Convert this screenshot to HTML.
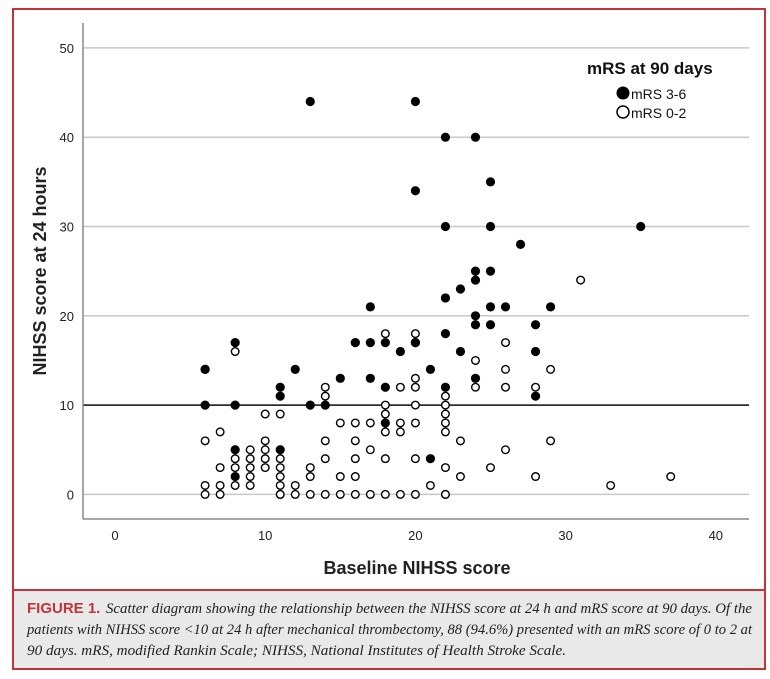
<!DOCTYPE html>
<html><head><meta charset="utf-8"><style>
body{margin:0;background:#fff;width:770px;height:674px;overflow:hidden;font-family:"Liberation Sans",sans-serif}
</style></head><body>
<svg width="770" height="674" xmlns="http://www.w3.org/2000/svg">
<rect x="13" y="9" width="752" height="660" fill="#fff" stroke="#c0343a" stroke-width="2"/>
<rect x="14" y="590" width="750" height="78" fill="#e9e9e9"/>
<line x1="13" y1="590" x2="765" y2="590" stroke="#c0343a" stroke-width="2"/>
<g id="grid"></g>
<line x1="83" y1="23" x2="83" y2="519" stroke="#888" stroke-width="1.5"/>
<line x1="83" y1="519" x2="749" y2="519" stroke="#888" stroke-width="1.5"/>
<g id="ticks" font-size="13" fill="#222"></g>
<g id="marks"></g>
<text x="417" y="574" font-size="18" font-weight="bold" text-anchor="middle" fill="#222">Baseline NIHSS score</text>
<text transform="translate(46,271) rotate(-90)" font-size="18" font-weight="bold" text-anchor="middle" fill="#222">NIHSS score at 24 hours</text>
<g>
<text x="587" y="74" font-size="17" font-weight="bold" fill="#111">mRS at 90 days</text>
<circle cx="623" cy="93" r="6.5" fill="#000"/>
<text x="631" y="99" font-size="14" fill="#111">mRS 3-6</text>
<circle cx="623" cy="112" r="6" fill="#fff" stroke="#000" stroke-width="1.5"/>
<text x="631" y="118" font-size="14" fill="#111">mRS 0-2</text>
</g>
<g font-size="15" fill="#222">
<text x="27" y="613" font-family="Liberation Sans,sans-serif" font-weight="bold" fill="#c0343a" font-size="15">FIGURE 1.</text>
<text x="106" y="613" font-family="Liberation Serif,serif" font-style="italic" textLength="646" lengthAdjust="spacingAndGlyphs">Scatter diagram showing the relationship between the NIHSS score at 24 h and mRS score at 90 days. Of the</text>
<text x="27" y="634" font-family="Liberation Serif,serif" font-style="italic" textLength="725" lengthAdjust="spacingAndGlyphs">patients with NIHSS score &lt;10 at 24 h after mechanical thrombectomy, 88 (94.6%) presented with an mRS score of 0 to 2 at</text>
<text x="27" y="655" font-family="Liberation Serif,serif" font-style="italic" textLength="539" lengthAdjust="spacingAndGlyphs">90 days. mRS, modified Rankin Scale; NIHSS, National Institutes of Health Stroke Scale.</text>
</g>
</svg>
<script>
const xTicks=[0,10,20,30,40];
const yTicks=[0,10,20,30,40,50];
const refLine=10;
const poorX=[6,6,6,8,8,8,8,11,11,11,12,13,13,14,15,16,17,17,17,18,18,18,19,20,20,20,20,21,21,22,22,22,22,22,23,23,24,24,24,24,24,24,25,25,25,25,25,26,27,28,28,28,29,35];
const poorY=[14,10,14,17,10,5,2,12,11,5,14,44,10,10,13,17,21,17,13,17,12,8,16,44,34,17,17,14,4,40,30,18,12,22,23,16,40,25,24,20,19,13,35,30,25,21,19,21,28,19,16,11,21,30];
const goodX=[6,6,6,7,7,7,7,8,8,8,8,9,9,9,9,9,10,10,10,10,10,11,11,11,11,11,11,11,12,12,13,13,13,14,14,14,14,14,15,15,15,16,16,16,16,16,16,17,17,17,18,18,18,18,18,18,19,19,19,19,20,20,20,20,20,20,20,21,22,22,22,22,22,22,22,22,23,23,24,24,25,26,26,26,26,28,28,29,29,31,33,37];
const goodY=[6,1,0,7,3,1,0,16,4,3,1,5,4,3,2,1,9,6,5,4,3,9,4,3,2,1,0,0,1,0,3,2,0,12,11,6,4,0,8,2,0,17,8,6,4,2,0,8,5,0,18,10,9,7,4,0,12,8,7,0,18,13,12,10,8,4,0,1,11,10,9,8,7,3,0,0,6,2,15,12,3,17,14,12,5,12,2,14,6,24,1,2];
const NS="http://www.w3.org/2000/svg";
const sx=v=>115+v*15.02;
const sy=v=>494.4-v*8.93;
const grid=document.getElementById('grid'),ticks=document.getElementById('ticks'),marks=document.getElementById('marks');
yTicks.forEach(t=>{
 const l=document.createElementNS(NS,'line');
 l.setAttribute('x1',83);l.setAttribute('x2',749);l.setAttribute('y1',sy(t));l.setAttribute('y2',sy(t));
 l.setAttribute('stroke','#c8c8c8');l.setAttribute('stroke-width','1.5');
 
 
 grid.appendChild(l);
 const tx=document.createElementNS(NS,'text');
 tx.setAttribute('x',74);tx.setAttribute('y',sy(t)+5);tx.setAttribute('text-anchor','end');tx.textContent=t;
 
 
 ticks.appendChild(tx);
});
xTicks.forEach(t=>{
 const tx=document.createElementNS(NS,'text');
 tx.setAttribute('x',sx(t));tx.setAttribute('y',540);tx.setAttribute('text-anchor','middle');tx.textContent=t;
 
 
 ticks.appendChild(tx);
});
const rl=document.createElementNS(NS,'line');
rl.setAttribute('x1',83);rl.setAttribute('x2',749);rl.setAttribute('y1',sy(refLine));rl.setAttribute('y2',sy(refLine));
rl.setAttribute('stroke','#111');rl.setAttribute('stroke-width','1.5');


grid.appendChild(rl);
goodX.forEach((x,i)=>{
 const c=document.createElementNS(NS,'circle');
 c.setAttribute('cx',sx(x));c.setAttribute('cy',sy(goodY[i]));c.setAttribute('r',3.8);
 c.setAttribute('fill','#fff');c.setAttribute('stroke','#000');c.setAttribute('stroke-width','1.4');
 
 
 marks.appendChild(c);
});
poorX.forEach((x,i)=>{
 const c=document.createElementNS(NS,'circle');
 c.setAttribute('cx',sx(x));c.setAttribute('cy',sy(poorY[i]));c.setAttribute('r',4.6);
 c.setAttribute('fill','#000');
 
 
 marks.appendChild(c);
});
</script>
</body></html>
